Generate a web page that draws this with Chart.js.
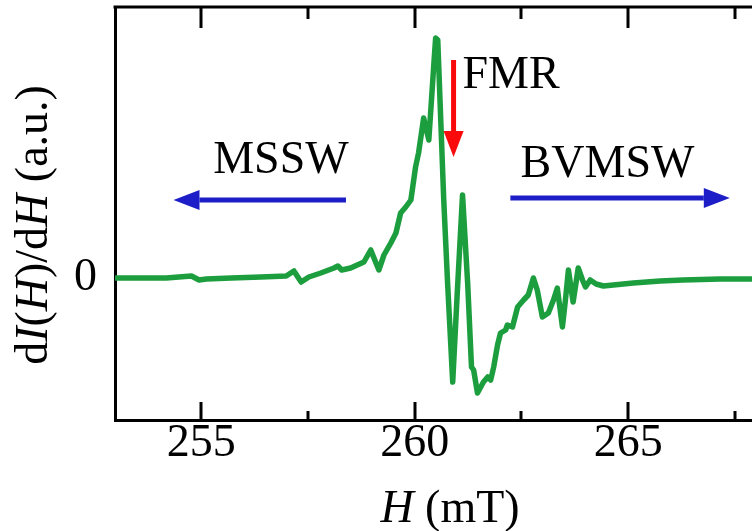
<!DOCTYPE html>
<html lang="en">
    <head>
        <meta charset="UTF-8">
        <title>FMR spectrum</title>
        <script src="https://cdn.jsdelivr.net/npm/chart.js"></script>
        <style>
            html, body { margin: 0; padding: 0; background: #fff; }
            #wrap { width: 752px; height: 531px; }
        </style>
    </head>
    <body>
        <div id="wrap"><canvas id="fmrChart"></canvas></div>
        <script>
            // field (mT) and derivative signal (a.u.)
            const fieldH = [
                253.01, 253.60, 254.18, 254.77, 254.95, 255.12, 255.70, 256.40, 256.99, 257.17,
                257.34, 257.52, 257.80, 258.11, 258.20, 258.29, 258.50, 258.81, 258.97, 259.16,
                259.28, 259.44, 259.56, 259.67, 259.79, 259.91, 260.02, 260.09, 260.21, 260.33,
                260.45, 260.49, 260.54, 260.68, 260.77, 260.89, 261.00, 261.12, 261.24, 261.33,
                261.38, 261.47, 261.61, 261.71, 261.78, 261.85, 261.94, 262.01, 262.13, 262.17,
                262.29, 262.41, 262.55, 262.66, 262.78, 262.87, 262.99, 263.13, 263.25, 263.34,
                263.46, 263.53, 263.60, 263.71, 263.83, 263.93, 264.00, 264.11, 264.25, 264.42,
                265.12, 265.75, 266.28, 267.15, 267.90
            ];
            const signal = [
                0.0, 0.0, 0.0, 0.2, -0.2, -0.1, 0.0, 0.1, 0.2, 0.7,
                -0.4, 0.1, 0.5, 1.0, 1.2, 0.8, 1.0, 1.6, 2.8, 0.8,
                2.3, 3.5, 4.5, 6.5, 7.1, 7.8, 11.1, 12.5, 16.0, 13.8,
                21.5, 24.0, 23.8, 7.8, -0.5, -10.4, -1.2, 8.3, -0.5, -8.9,
                -9.2, -11.5, -10.4, -9.9, -10.2, -8.9, -6.7, -5.5, -5.2, -4.7,
                -4.9, -2.9, -2.2, -1.7, 0.0, -1.2, -3.9, -3.5, -2.2, -1.0,
                -4.9, -2.2, 0.8, -2.4, 1.0, -0.2, -0.9, -0.2, -0.6, -0.8,
                -0.5, -0.3, -0.2, -0.1, -0.1
            ];
            const majorTicks = [255, 260, 265];
            const minorTicks = [257.5, 262.5, 267.5];
            const yTicks = [0];

            const serif = "'Liberation Serif', 'DejaVu Serif', serif";
            const colorLinea = 'rgb(28, 158, 62)';
            const colorAzul = 'rgb(30, 30, 200)';
            const colorRojo = 'rgb(250, 10, 10)';

            // text labels and arrows, placed in data units
            const labels = [
                { text: 'FMR', h: 261.12, v: 19.0 },
                { text: 'MSSW', h: 255.28, v: 10.5 },
                { text: 'BVMSW', h: 262.48, v: 10.1 }
            ];
            const arrows = [
                { h1: 258.39, v1: 7.8, h2: 254.35, v2: 7.8, color: colorAzul },
                { h1: 262.24, v1: 8.0, h2: 267.38, v2: 8.0, color: colorAzul },
                { h1: 260.91, v1: 21.8, h2: 260.91, v2: 12.1, color: colorRojo }
            ];

            function drawMixed(ctx, parts, x, y) {
                let total = 0;
                parts.forEach(p => {
                    ctx.font = (p[1] ? 'italic ' : '') + '46px ' + serif;
                    total += ctx.measureText(p[0]).width;
                });
                let cx = x - total / 2;
                parts.forEach(p => {
                    ctx.font = (p[1] ? 'italic ' : '') + '46px ' + serif;
                    ctx.fillText(p[0], cx, y);
                    cx += ctx.measureText(p[0]).width;
                });
            }

            function drawArrow(ctx, x1, y1, x2, y2, color) {
                const ang = Math.atan2(y2 - y1, x2 - x1);
                const head = 26, half = 10;
                const bx = x2 - head * Math.cos(ang), by = y2 - head * Math.sin(ang);
                ctx.strokeStyle = color;
                ctx.fillStyle = color;
                ctx.lineWidth = 5;
                ctx.beginPath();
                ctx.moveTo(x1, y1);
                ctx.lineTo(bx, by);
                ctx.stroke();
                ctx.beginPath();
                ctx.moveTo(x2, y2);
                ctx.lineTo(bx - half * Math.sin(ang), by + half * Math.cos(ang));
                ctx.lineTo(bx + half * Math.sin(ang), by - half * Math.cos(ang));
                ctx.closePath();
                ctx.fill();
            }

            const decoracion = {
                id: 'decoracion',
                afterDraw(chart) {
                    const ctx = chart.ctx;
                    const area = chart.chartArea;
                    const xs = chart.scales.x, ys = chart.scales.y;
                    ctx.save();
                    // top frame
                    ctx.strokeStyle = '#000';
                    ctx.lineWidth = 3;
                    ctx.beginPath();
                    ctx.moveTo(area.left - 1.5, area.top);
                    ctx.lineTo(area.right, area.top);
                    ctx.stroke();
                    // inward ticks, bottom and top
                    const tick = (v, len) => {
                        const px = Math.round(xs.getPixelForValue(v));
                        ctx.beginPath();
                        ctx.moveTo(px, area.bottom);
                        ctx.lineTo(px, area.bottom - len);
                        ctx.moveTo(px, area.top);
                        ctx.lineTo(px, area.top + len + 3);
                        ctx.stroke();
                    };
                    majorTicks.forEach(v => tick(v, 18));
                    minorTicks.forEach(v => tick(v, 9));
                    // annotations
                    ctx.fillStyle = '#000';
                    ctx.textBaseline = 'alphabetic';
                    ctx.font = '46px ' + serif;
                    labels.forEach(l => {
                        ctx.fillText(l.text, xs.getPixelForValue(l.h), ys.getPixelForValue(l.v));
                    });
                    arrows.forEach(a => {
                        drawArrow(ctx, xs.getPixelForValue(a.h1), ys.getPixelForValue(a.v1),
                            xs.getPixelForValue(a.h2), ys.getPixelForValue(a.v2), a.color);
                    });
                    // axis titles
                    ctx.fillStyle = '#000';
                    drawMixed(ctx, [['H', true], [' (mT)', false]], 450, 522);
                    ctx.translate(47, 225);
                    ctx.rotate(-Math.PI / 2);
                    drawMixed(ctx, [['d', false], ['I', true], ['(', false], ['H', true], [')/d', false], ['H', true], [' (a.u.)', false]], 0, 0);
                    ctx.restore();
                }
            };

            const ctx = document.getElementById('fmrChart').getContext('2d');
            const fmrChart = new Chart(ctx, {
                type: 'scatter',
                data: {
                    datasets: [{
                        data: fieldH.map((h, i) => ({ x: h, y: signal[i] })),
                        showLine: true,
                        borderColor: colorLinea,
                        borderWidth: 5.5,
                        pointRadius: 0,
                        borderJoinStyle: 'round',
                        borderCapStyle: 'round',
                        tension: 0
                    }]
                },
                options: {
                    responsive: true,
                    maintainAspectRatio: false,
                    animation: false,
                    layout: { padding: { top: 7, right: 0, left: 0, bottom: 0 } },
                    plugins: {
                        legend: { display: false },
                        tooltip: { enabled: false }
                    },
                    scales: {
                        x: {
                            type: 'linear',
                            min: 252.98,
                            max: 267.9,
                            grid: { display: false },
                            border: { display: true, color: '#000', width: 3 },
                            afterBuildTicks: axis => { axis.ticks = majorTicks.map(v => ({ value: v })); },
                            afterFit: axis => {
                                axis.height = 111;
                                axis.paddingLeft = 0;
                                axis.paddingRight = 0;
                            },
                            ticks: {
                                color: '#000',
                                padding: -12,
                                maxRotation: 0,
                                font: { family: serif, size: 46 }
                            }
                        },
                        y: {
                            min: -14.2,
                            max: 27.1,
                            grid: { display: false },
                            border: { display: true, color: '#000', width: 3 },
                            afterBuildTicks: axis => { axis.ticks = yTicks.map(v => ({ value: v })); },
                            afterFit: axis => {
                                axis.width = 115;
                                axis.paddingTop = 0;
                                axis.paddingBottom = 0;
                            },
                            ticks: {
                                color: '#000',
                                padding: 10,
                                font: { family: serif, size: 46 }
                            }
                        }
                    }
                },
                plugins: [decoracion]
            });
        </script>
    </body>
</html>
